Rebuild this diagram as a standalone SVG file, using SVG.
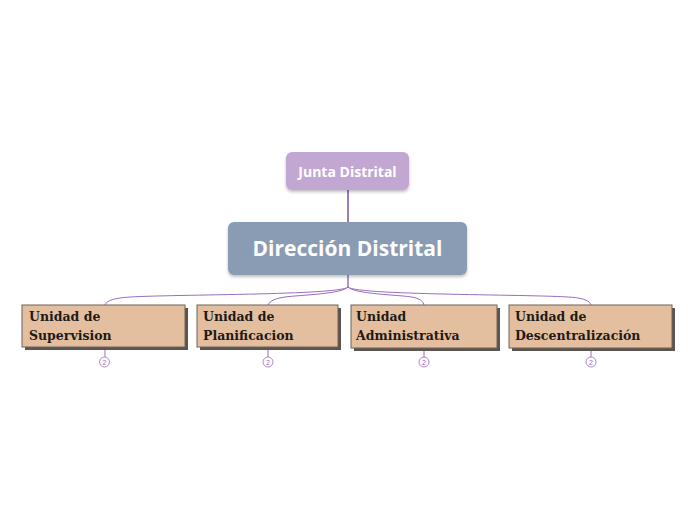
<svg xmlns="http://www.w3.org/2000/svg" width="696" height="520" viewBox="0 0 696 520">
<defs>
<filter id="sh" x="-10%" y="-10%" width="130%" height="140%"><feDropShadow dx="0" dy="2" stdDeviation="1.5" flood-color="#000" flood-opacity="0.25"/></filter>
<style>
.conn{fill:none;stroke:#9b6cc0;stroke-width:1}
.unit rect.bg{fill:#e3bfa0;stroke:#6e6258;stroke-width:1}
.unit rect.shd{fill:#5a5550}
.ut{font-family:"DejaVu Serif","Liberation Serif",serif;font-weight:bold;font-size:12.5px;fill:#1e1a16}
.badge{fill:#fff;stroke:#9b6cc0;stroke-width:0.8}
.bt{font-family:"Liberation Sans",sans-serif;font-size:7px;fill:#9b6cc0;text-anchor:middle}
.title{font-family:"Open Sans",Lato,sans-serif;font-weight:bold;fill:#fff;text-anchor:middle}
</style>
</defs>
<rect width="696" height="520" fill="#fff"/>
<g id="connectors">
<line x1="348" y1="190" x2="348" y2="222" stroke="#7b4fa8" stroke-width="1.5"/>
<line x1="348" y1="275" x2="348" y2="287" stroke="#7b4fa8" stroke-width="1.2"/>
<path class="conn" d="M348,287 C340,296 140,294 120,298 Q106,300 105,305"/>
<path class="conn" d="M348,287 C342,294 300,295 285,297 Q270,299 268,305"/>
<path class="conn" d="M348,287 C354,294 400,295 412,297 Q423,299 424,305"/>
<path class="conn" d="M348,287 C356,296 560,294 578,298 Q590,300 591,305"/>
<line class="conn" x1="105" y1="347" x2="105" y2="357"/>
<line class="conn" x1="268" y1="347" x2="268" y2="357"/>
<line class="conn" x1="424" y1="348" x2="424" y2="357"/>
<line class="conn" x1="591" y1="348" x2="591" y2="357"/>
</g>
<g id="junta">
<rect x="286" y="152" width="123" height="38" rx="6" fill="#c2a7d3" filter="url(#sh)"/>
<text class="title" x="347.5" y="176.5" font-size="14">Junta Distrital</text>
</g>
<g id="direccion">
<rect x="228" y="222" width="239" height="53" rx="6" fill="#8a9cb4" filter="url(#sh)"/>
<text class="title" x="347.5" y="256" font-size="21">Dirección Distrital</text>
</g>
<g id="supervision" class="unit">
<rect class="shd" x="25" y="308" width="163" height="42"/>
<rect class="bg" x="22" y="305" width="163" height="42"/>
<text class="ut" x="29" y="321">Unidad de</text>
<text class="ut" x="29" y="340">Supervision</text>
<circle class="badge" cx="104.5" cy="362" r="5"/><text class="bt" x="104.5" y="364.5">2</text>
</g>
<g id="planificacion" class="unit">
<rect class="shd" x="200" y="308" width="141" height="42"/>
<rect class="bg" x="197" y="305" width="141" height="42"/>
<text class="ut" x="203" y="321">Unidad de</text>
<text class="ut" x="203" y="340">Planificacion</text>
<circle class="badge" cx="268" cy="362" r="5"/><text class="bt" x="268" y="364.5">2</text>
</g>
<g id="administrativa" class="unit">
<rect class="shd" x="354" y="308" width="146" height="43"/>
<rect class="bg" x="351" y="305" width="146" height="43"/>
<text class="ut" x="356" y="321">Unidad</text>
<text class="ut" x="356" y="340">Administrativa</text>
<circle class="badge" cx="424" cy="362" r="5"/><text class="bt" x="424" y="364.5">2</text>
</g>
<g id="descentralizacion" class="unit">
<rect class="shd" x="512" y="308" width="163" height="43"/>
<rect class="bg" x="509" y="305" width="163" height="43"/>
<text class="ut" x="515" y="321" font-size="12">Unidad de</text>
<text class="ut" x="515" y="340" font-size="12">Descentralización</text>
<circle class="badge" cx="591" cy="362" r="5"/><text class="bt" x="591" y="364.5">2</text>
</g>
</svg>
